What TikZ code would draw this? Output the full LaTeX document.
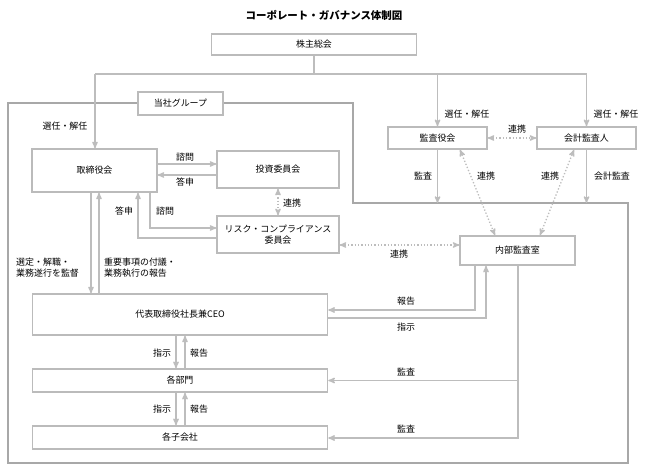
\documentclass[tikz,border=0pt]{standalone}
\usepackage{fontspec}
\setmainfont{Noto Sans CJK JP}
\usepackage{tikz}
\usetikzlibrary{positioning,calc,arrows}
\definecolor{boxgray}{HTML}{BBBBBB}
\definecolor{linegray}{HTML}{BDBDBD}
\definecolor{framegray}{HTML}{A8A8A8}
\tikzset{
  basic/.style  = {draw=boxgray, line width=1.6bp, fill=white, rectangle,
                   inner sep=0pt, align=center, font=\fontsize{9}{11}\selectfont},
  lbl/.style    = {inner sep=0pt, align=left, font=\fontsize{9}{11}\selectfont},
  plain/.style  = {draw=linegray, line width=1.3bp},
  arc/.style    = {->, >=stealth', draw=linegray, line width=1.3bp},
  dotarc/.style = {<->, >=stealth', draw=linegray, line width=1.3bp, dotted},
  frame/.style  = {draw=framegray, line width=1.3bp}
}
\begin{document}
\begin{tikzpicture}[x=1bp, y=-1bp]
  \fill[white] (0,0) rectangle (648,472);
  \useasboundingbox (0,0) rectangle (648,472);
  \node[lbl, font=\fontsize{10.5}{12}\selectfont\bfseries] (title) at (324,15) {コーポレート・ガバナンス体制図};
  % group frame
  \draw[frame] (8,103) -- (353,103) -- (353,203) -- (628,203) -- (628,463) -- (8,463) -- cycle;
  \node[basic, minimum width=85, minimum height=23] (group) at (180.5,103.5) {当社グループ};
  \node[basic, minimum width=206, minimum height=21] (soukai) at (314,44.5) {株主総会};
  \node[basic, minimum width=125, minimum height=43] (board) at (94.5,170.5) {取締役会};
  \node[basic, minimum width=122, minimum height=37] (invest) at (278,169.5) {投資委員会};
  \node[basic, minimum width=122, minimum height=37] (risk) at (278,234.5) {リスク・コンプライアンス\\委員会};
  \node[basic, minimum width=99, minimum height=22] (auditors) at (437.5,138) {監査役会};
  \node[basic, minimum width=99, minimum height=22] (account) at (586.5,138) {会計監査人};
  \node[basic, minimum width=115, minimum height=29] (internal) at (517.5,250.5) {内部監査室};
  \node[basic, minimum width=296, minimum height=41] (ceo) at (180,314.5) {代表取締役社長兼CEO};
  \node[basic, minimum width=296, minimum height=23] (dept) at (180,380.5) {各部門};
  \node[basic, minimum width=296, minimum height=23] (subs) at (180,437.5) {各子会社};

  \coordinate (busL) at (95,74);
  \coordinate (busR) at (586.5,74);
  \coordinate (fA) at (437,203);
  \coordinate (rA) at (138,238);
  \coordinate (rQ) at (150,228);
  \coordinate (kL) at (91,250);
  \coordinate (kR) at (99,250);
  \coordinate (rn) at (400,245);
  \coordinate (nR) at (475,310);
  \coordinate (nI) at (486,318);
  \coordinate (nK) at (518,438);
  \coordinate (cI) at (176,352);
  \coordinate (cR) at (185,352);

  \draw[plain] (soukai.south) -- (soukai.south |- busL);
  \draw[plain] (busL) -- (busR);
  \draw[arc] (busL) -- (busL |- board.north);
  \draw[arc] (auditors.north |- busL) -- (auditors.north);
  \draw[arc] (busR) -- (account.north);
  \node[lbl] (sel1) at (65,126) {選任・解任};
  \node[lbl] (sel2) at (467,114) {選任・解任};
  \node[lbl] (sel3) at (616,114) {選任・解任};

  \draw[arc] (board.east |- 0,164) -- (invest.west |- 0,164);
  \draw[arc] (invest.west |- 0,175) -- (board.east |- 0,175);
  \node[lbl] (q1) at (185,157) {諮問};
  \node[lbl] (a1) at (185,182) {答申};
  \draw[dotarc] (invest.south) -- (risk.north);
  \node[lbl] (c1) at (292,203) {連携};
  \draw[arc] (risk.west |- rA) -- (rA) -- (rA |- board.south);
  \draw[arc] (rQ |- board.south) -- (rQ) -- (risk.west |- rQ);
  \node[lbl] (a2) at (124,211) {答申};
  \node[lbl] (q2) at (165,211) {諮問};

  \draw[arc] (kL |- board.south) -- (kL |- ceo.north);
  \draw[arc] (kR |- ceo.north) -- (kR |- board.south);
  \node[lbl, anchor=west] (sup) at (16,268) {選定・解職・\\業務遂行を監督};
  \node[lbl, anchor=west] (rep) at (104,268) {重要事項の付議・\\業務執行の報告};

  \draw[dotarc] (risk.east |- rn) -- (internal.west |- rn);
  \node[lbl] (c2) at (399,254) {連携};
  \draw[dotarc] (auditors.east) -- (account.west);
  \node[lbl] (c3) at (517,129) {連携};
  \draw[arc] (auditors.south) -- (auditors.south |- fA);
  \draw[arc] (account.south) -- (account.south |- fA);
  \node[lbl] (au1) at (423,176) {監査};
  \node[lbl] (au2) at (612,176) {会計監査};
  \draw[dotarc] ($(auditors.south)+(22.5,0)$) -- ($(internal.north)+(-22.5,0)$);
  \draw[dotarc] ($(account.south)+(-12.5,0)$) -- ($(internal.north)+(22.5,0)$);
  \node[lbl] (c4) at (486,176) {連携};
  \node[lbl] (c5) at (550,176) {連携};

  \draw[arc] (internal.south -| nR) -- (nR) -- (ceo.east |- nR);
  \draw[arc] (ceo.east |- nI) -- (nI) -- (internal.south -| nI);
  \node[lbl] (r1) at (406,301) {報告};
  \node[lbl] (i1) at (406,327) {指示};
  \draw[arc] (internal.south -| nK) -- (nK) -- (subs.east |- nK);
  \draw[arc] (nK |- dept.east) -- (dept.east);
  \node[lbl] (au3) at (406,372) {監査};
  \node[lbl] (au4) at (406,429) {監査};

  \draw[arc] (cI |- ceo.south) -- (cI |- dept.north);
  \draw[arc] (cR |- dept.north) -- (cR |- ceo.south);
  \node[lbl] (i2) at (162,353) {指示};
  \node[lbl] (r2) at (199,353) {報告};
  \draw[arc] (cI |- dept.south) -- (cI |- subs.north);
  \draw[arc] (cR |- subs.north) -- (cR |- dept.south);
  \node[lbl] (i3) at (162,409) {指示};
  \node[lbl] (r3) at (199,409) {報告};
\end{tikzpicture}
\end{document}
